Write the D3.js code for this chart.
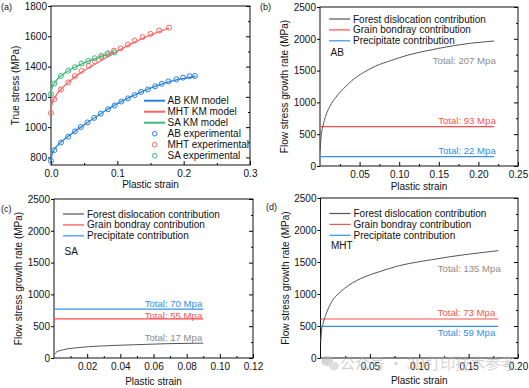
<!DOCTYPE html>
<html><head><meta charset="utf-8">
<script src="https://cdn.jsdelivr.net/npm/d3@7"></script>
<style>
html,body{margin:0;padding:0;background:#fff;}
svg{display:block;font-family:"Liberation Sans",Arial,sans-serif;}
</style></head>
<body><svg id="chart" width="529" height="388"></svg>
<script>
// ---------- Panel (a) data ----------
const abExpStrain = [0, 0.005, 0.015, 0.026, 0.036, 0.045, 0.055, 0.065, 0.075, 0.086, 0.096, 0.106, 0.116, 0.126, 0.136, 0.146, 0.157, 0.167, 0.177, 0.189, 0.199, 0.209, 0.217];
const abExpStress = [777, 848, 898, 937, 972, 1001, 1031, 1061, 1089, 1118, 1143, 1169, 1190, 1212, 1233, 1249, 1270, 1286, 1302, 1316, 1327, 1336, 1338];
const abModelStrain = [0, 0.002, 0.005, 0.01, 0.02, 0.03, 0.045, 0.06, 0.08, 0.1, 0.12, 0.14, 0.16, 0.18, 0.2, 0.218];
const abModelStress = [785, 825, 852, 880, 920, 953, 1000, 1045, 1103, 1155, 1200, 1240, 1274, 1302, 1322, 1336];

const mhtExpStrain = [0, 0.005, 0.015, 0.026, 0.036, 0.046, 0.057, 0.066, 0.076, 0.086, 0.095, 0.105, 0.116, 0.126, 0.138, 0.15, 0.163, 0.178];
const mhtExpStress = [1093, 1185, 1249, 1295, 1338, 1372, 1405, 1435, 1462, 1488, 1505, 1520, 1545, 1572, 1595, 1616, 1638, 1657];
const mhtModelStrain = [0, 0.002, 0.005, 0.01, 0.02, 0.03, 0.045, 0.06, 0.08, 0.1, 0.12, 0.14, 0.16, 0.178];
const mhtModelStress = [1120, 1160, 1190, 1225, 1272, 1310, 1360, 1400, 1450, 1500, 1548, 1590, 1625, 1655];

const saExpStrain = [0, 0.005, 0.015, 0.026, 0.036, 0.046, 0.056, 0.066, 0.076, 0.085, 0.0955];
const saExpStress = [1219, 1288, 1338, 1372, 1396, 1419, 1437, 1455, 1471, 1482, 1494];
const saModelStrain = [0, 0.002, 0.005, 0.01, 0.02, 0.03, 0.045, 0.06, 0.075, 0.095];
const saModelStress = [1235, 1265, 1290, 1318, 1355, 1382, 1415, 1442, 1465, 1497];

const legendALabels = ["AB KM model", "MHT KM model", "SA KM model", "AB experimental", "MHT experimental", "SA experimental"];

// ---------- Panels (b)-(d) data ----------
const contribLabels = ["Forest dislocation contribution", "Grain bondray contribution", "Precipitate contribution"];

const abForestStrain = [0.0003, 0.001, 0.002, 0.004, 0.007, 0.0125, 0.02, 0.03, 0.04, 0.055, 0.07, 0.09, 0.11, 0.13, 0.15, 0.17, 0.19, 0.21, 0.22];
const abForestRate = [250, 400, 520, 640, 780, 940, 1080, 1220, 1340, 1470, 1570, 1660, 1740, 1800, 1850, 1895, 1930, 1955, 1965];
const abGrainRate = 620;
const abPrecipRate = 146;
const abEnd = 0.22;
const abTotals = ["Total: 207 Mpa", "Total: 93 Mpa", "Total: 22 Mpa"];

const saForestStrain = [0.0002, 0.0016, 0.0057, 0.0137, 0.028, 0.048, 0.068, 0.09];
const saForestRate = [56, 94, 130, 161, 188, 208, 225, 234];
const saGrainRate = 614;
const saPrecipRate = 770;
const saEnd = 0.09;
const saTotals = ["Total: 17 Mpa", "Total: 55 Mpa", "Total: 70 Mpa"];

const mhtForestStrain = [0.0003, 0.001, 0.0027, 0.006, 0.011, 0.02, 0.028, 0.045, 0.06, 0.079, 0.1, 0.1125, 0.13, 0.146, 0.165, 0.18];
const mhtForestRate = [250, 420, 547, 700, 870, 1030, 1130, 1270, 1350, 1440, 1505, 1536, 1580, 1614, 1650, 1677];
const mhtGrainRate = 609;
const mhtPrecipRate = 494;
const mhtEnd = 0.18;
const mhtTotals = ["Total: 135 Mpa", "Total: 73 Mpa", "Total: 59 Mpa"];

const rateTicks = [0, 500, 1000, 1500, 2000, 2500];
const rateMinor = [250, 750, 1250, 1750, 2250];

// ---------- drawing ----------
const svg = d3.select("#chart");
const FS = 10;

function frame(cfg) {
  const x = d3.scaleLinear().domain(cfg.xDomain).range([cfg.left, cfg.right]);
  const y = d3.scaleLinear().domain(cfg.yDomain).range([cfg.bottom, cfg.top]);
  const g = svg.append("g");
  // bottom axis: inward ticks
  const bx = g.append("g").attr("transform", `translate(0,${cfg.bottom})`)
    .call(d3.axisBottom(x).tickValues(cfg.xTicks).tickFormat(cfg.xFormat).tickSizeInner(-4).tickSizeOuter(0).tickPadding(5));
  bx.select(".domain").remove();
  bx.selectAll("text").attr("font-size", FS).attr("font-family", null).attr("fill", "#111");
  g.append("g").attr("transform", `translate(0,${cfg.bottom})`)
    .call(d3.axisBottom(x).tickValues(cfg.xMinor).tickFormat("").tickSizeInner(-2).tickSizeOuter(0))
    .select(".domain").remove();
  // left axis: outward ticks
  const ly = g.append("g").attr("transform", `translate(${cfg.left},0)`)
    .call(d3.axisLeft(y).tickValues(cfg.yTicks).tickFormat(d3.format("d")).tickSizeInner(3).tickSizeOuter(0).tickPadding(1));
  ly.select(".domain").remove();
  ly.selectAll("text").attr("font-size", FS).attr("font-family", null).attr("fill", "#111");
  // right axis: inward ticks
  g.append("g").attr("transform", `translate(${cfg.right},0)`)
    .call(d3.axisRight(y).tickValues(cfg.yTicks).tickFormat("").tickSizeInner(-4).tickSizeOuter(0))
    .select(".domain").remove();
  g.append("g").attr("transform", `translate(${cfg.right},0)`)
    .call(d3.axisRight(y).tickValues(cfg.yMinor).tickFormat("").tickSizeInner(-2).tickSizeOuter(0))
    .select(".domain").remove();
  g.append("rect").attr("x", cfg.left).attr("y", cfg.top)
    .attr("width", cfg.right - cfg.left).attr("height", cfg.bottom - cfg.top)
    .attr("fill", "none").attr("stroke", "#111").attr("stroke-width", 1);
  // titles
  g.append("text").attr("x", (cfg.left + cfg.right) / 2).attr("y", cfg.bottom + cfg.xTitleDy)
    .attr("dy", "0.35em").attr("text-anchor", "middle").attr("font-size", FS).attr("fill", "#111").text("Plastic strain");
  g.append("text").attr("transform", `translate(${cfg.left - cfg.yTitleDx},${(cfg.top + cfg.bottom) / 2}) rotate(-90)`)
    .attr("dy", "0.35em").attr("text-anchor", "middle").attr("font-size", FS).attr("fill", "#111").text(cfg.yTitle);
  g.append("text").attr("x", cfg.tagX).attr("y", cfg.tagY).attr("dy", "0.35em")
    .attr("font-size", 9).attr("fill", "#111").text(cfg.tag);
  return {x, y, g};
}

const line = (x, y) => d3.line().x(d => x(d[0])).y(d => y(d[1])).curve(d3.curveMonotoneX);

// ----- Panel (a) -----
(function () {
  const cfg = {left: 51, right: 250, top: 6, bottom: 165, xDomain: [0, 0.3], yDomain: [750, 1800],
    xTicks: [0, 0.1, 0.2, 0.3], xMinor: [0.05, 0.15, 0.25], xFormat: d3.format(".1f"),
    yTicks: [800, 1000, 1200, 1400, 1600, 1800], yMinor: [900, 1100, 1300, 1500, 1700],
    xTitleDy: 19, yTitleDx: 36, yTitle: "True stress (MPa)", tag: "(a)", tagX: 1, tagY: 7};
  const {x, y, g} = frame(cfg);
  const blue = "#2a7fe2", red = "#ff6565", green = "#3dbb7a";
  const series = [
    [abModelStrain, abModelStress, abExpStrain, abExpStress, blue],
    [mhtModelStrain, mhtModelStress, mhtExpStrain, mhtExpStress, red],
    [saModelStrain, saModelStress, saExpStrain, saExpStress, green]
  ];
  const L = line(x, y);
  series.forEach(([ms, mv, es, ev, c]) => {
    g.append("path").datum(d3.zip(ms, mv)).attr("d", L).attr("fill", "none").attr("stroke", c).attr("stroke-width", 1.3);
  });
  series.forEach(([ms, mv, es, ev, c]) => {
    g.append("g").selectAll("circle").data(d3.zip(es, ev)).join("circle")
      .attr("cx", d => x(d[0])).attr("cy", d => y(d[1])).attr("r", 2.5)
      .attr("fill", "none").attr("stroke", c).attr("stroke-width", 1);
  });
  const colors = [blue, red, green, blue, red, green];
  legendALabels.forEach((t, i) => {
    const yy = 100.7 + i * 11;
    if (i < 3) g.append("line").attr("x1", 144).attr("x2", 165).attr("y1", yy).attr("y2", yy)
      .attr("stroke", colors[i]).attr("stroke-width", 2);
    else g.append("circle").attr("cx", 154.7).attr("cy", yy).attr("r", 2.3)
      .attr("fill", "none").attr("stroke", colors[i]).attr("stroke-width", 1);
    g.append("text").attr("x", 167.5).attr("y", yy).attr("dy", "0.35em").attr("font-size", FS).attr("fill", "#111").text(t);
  });
})();

// ----- Panels (b)-(d) -----
function contribPanel(cfg, forestS, forestV, grain, precip, end, totals, sample) {
  const {x, y, g} = frame(Object.assign({yDomain: [0, 2500], yTicks: rateTicks, yMinor: rateMinor,
    xFormat: d3.format(".2f"), yTitle: "Flow stress growth rate (MPa)", yTitleDx: 35.5}, cfg));
  const gray = "#555", red = "#ff4d4d", blue = "#3590f0";
  const L = line(x, y);
  g.append("path").datum([[0, grain], [end, grain]]).attr("d", L).attr("fill", "none").attr("stroke", red).attr("stroke-width", 1.2);
  g.append("path").datum([[0, precip], [end, precip]]).attr("d", L).attr("fill", "none").attr("stroke", blue).attr("stroke-width", 1.2);
  g.append("path").datum(d3.zip(forestS, forestV)).attr("d", L).attr("fill", "none").attr("stroke", gray).attr("stroke-width", 1);
  // annotations
  const tcol = ["#8c8c8c", "#ff5252", "#2f8fee"];
  const vals = [forestV[forestV.length - 1], grain, precip];
  totals.forEach((t, i) => {
    g.append("text").attr("x", x(end) + cfg.annDx[i]).attr("y", y(vals[i]) + cfg.annDy[i]).attr("dy", "0.35em")
      .attr("text-anchor", "end").attr("font-size", 9.6).attr("fill", tcol[i]).text(t);
  });
  // legend
  const lc = [gray, red, blue];
  contribLabels.forEach((t, i) => {
    const yy = cfg.legTop + i * 10.9;
    g.append("line").attr("x1", cfg.left + 9).attr("x2", cfg.left + 30).attr("y1", yy).attr("y2", yy)
      .attr("stroke", lc[i]).attr("stroke-width", 1.2);
    g.append("text").attr("x", cfg.left + 33).attr("y", yy).attr("dy", "0.35em").attr("font-size", FS).attr("fill", "#111").text(t);
  });
  g.append("text").attr("x", cfg.left + 10.5).attr("y", cfg.sampleY).attr("dy", "0.35em").attr("font-size", FS).attr("fill", "#111").text(sample);
}

contribPanel({left: 320, right: 518, top: 7, bottom: 166, xDomain: [0, 0.25],
  xTicks: [0.05, 0.10, 0.15, 0.20, 0.25], xMinor: [0.025, 0.075, 0.125, 0.175, 0.225],
  xTitleDy: 20.5, tag: "(b)", tagX: 260, tagY: 7, legTop: 19, sampleY: 52.7,
  annDx: [1.5, 1.5, 1.5], annDy: [20, -6, -6]},
  abForestStrain, abForestRate, abGrainRate, abPrecipRate, abEnd, abTotals, "AB");

contribPanel({left: 54, right: 253, top: 199, bottom: 358, xDomain: [0, 0.12],
  xTicks: [0.02, 0.04, 0.06, 0.08, 0.10, 0.12], xMinor: [0.01, 0.03, 0.05, 0.07, 0.09, 0.11],
  xTitleDy: 23.5, tag: "(c)", tagX: 1, tagY: 209, legTop: 214, sampleY: 251,
  annDx: [-1, -1, -1], annDy: [-5, -3.5, -5]},
  saForestStrain, saForestRate, saGrainRate, saPrecipRate, saEnd, saTotals, "SA");

contribPanel({left: 320.5, right: 518, top: 198, bottom: 358, xDomain: [0, 0.2],
  xTicks: [0.05, 0.10, 0.15, 0.20], xMinor: [0.025, 0.075, 0.125, 0.175],
  xTitleDy: 22.7, tag: "(d)", tagX: 266, tagY: 207, legTop: 213.5, sampleY: 245.7,
  annDx: [2.5, -3, -3], annDy: [18, -6, 6]},
  mhtForestStrain, mhtForestRate, mhtGrainRate, mhtPrecipRate, mhtEnd, mhtTotals, "MHT");

// watermark
const wm = svg.append("g").attr("opacity", 0.55);
wm.append("ellipse").attr("cx", 327).attr("cy", 361).attr("rx", 6).attr("ry", 5).attr("fill", "#b5b5b5");
wm.append("ellipse").attr("cx", 334).attr("cy", 366).attr("rx", 5).attr("ry", 4.2).attr("fill", "#c5c5c5");
wm.append("text").attr("x", 340).attr("y", 364).attr("dy", "0.35em").attr("font-size", 15)
  .attr("font-family", "'Noto Sans CJK SC', sans-serif").attr("fill", "#b0b0b0").text("公众号 · 3D打印技术参考");
</script></body></html>
